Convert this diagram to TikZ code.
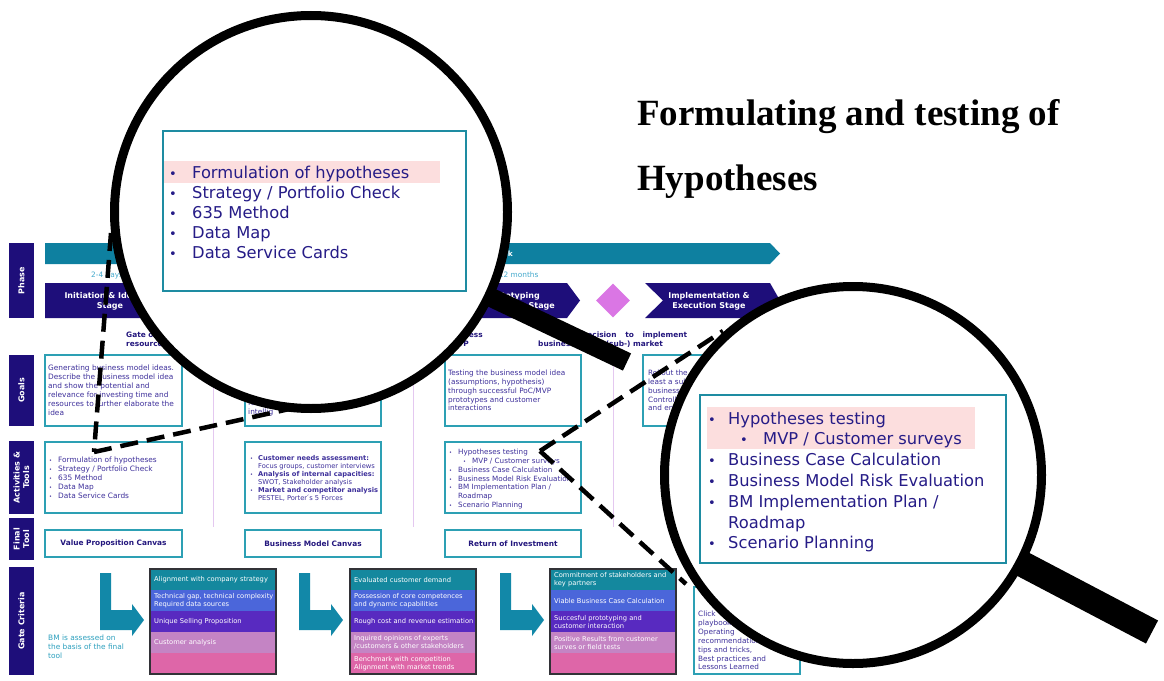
\documentclass[tikz,border=0pt]{standalone}
\usepackage{fontspec}
\setmainfont{Liberation Serif}
\newfontfamily\dv{DejaVu Sans}
\usetikzlibrary{shapes.geometric}
\newcommand\fsz[2]{\fontsize{#1}{#2}\selectfont}
\newcommand\sbul{\makebox[9pt][l]{{\fsz{5}{5}\textbullet}}}
\newcommand\nbul{\makebox[8pt][l]{{\fsz{5}{5}\textbullet}}}

\definecolor{navyc}{RGB}{30,14,122}
\definecolor{barc}{RGB}{14,128,160}
\definecolor{timec}{RGB}{70,170,205}
\definecolor{cellc}{RGB}{45,160,180}
\definecolor{bodyc}{RGB}{62,48,155}
\definecolor{gatec}{RGB}{35,22,125}
\definecolor{diac}{RGB}{218,118,228}
\definecolor{sepc}{RGB}{228,200,240}
\definecolor{arrowc}{RGB}{18,136,168}
\definecolor{notec}{RGB}{45,160,190}
\definecolor{bandA}{RGB}{20,136,158}
\definecolor{bandB}{RGB}{75,102,218}
\definecolor{bandC}{RGB}{88,42,192}
\definecolor{bandD}{RGB}{196,132,196}
\definecolor{bandE}{RGB}{222,102,168}
\definecolor{stackc}{RGB}{50,50,55}
\definecolor{lensboxc}{RGB}{30,140,162}
\definecolor{lenstc}{RGB}{38,28,135}
\definecolor{hlc}{RGB}{252,222,222}

\begin{document}
\begin{tikzpicture}[x=1pt,y=-1pt,
  lbl/.style={fill=navyc,text=white,font=\dv\bfseries\fsz{8}{9.5},align=center,rotate=90,inner sep=0},
  stg/.style={text=white,font=\dv\bfseries\fsz{8}{10},align=center,inner sep=0},
  timetxt/.style={text=timec,font=\dv\fsz{7.4}{9},inner sep=0},
  gatetxt/.style={text=gatec,font=\dv\bfseries\fsz{7.4}{9},inner sep=0},
  cell/.style={draw=cellc,line width=1.2pt,fill=white,inner sep=0,outer sep=0,anchor=north west},
  body/.style={text=bodyc,font=\dv\fsz{7.4}{9},align=left,inner sep=0,anchor=north west},
  tool/.style={cell,text=gatec,font=\dv\bfseries\fsz{7.4}{9},minimum width=137pt,minimum height=27pt},
  crit/.style={text=white,font=\dv\fsz{6.7}{8},align=left,inner sep=0,anchor=west},
  sepline/.style={draw=sepc,line width=0.8pt},
  larrow/.style={fill=arrowc},
  dashline/.style={draw=black,line width=4.5pt,dash pattern=on 18pt off 9pt},
  lens/.style={circle,draw=black,line width=9pt,fill=white,inner sep=0},
  lensbox/.style={draw=lensboxc,line width=2.5pt},
  lenstxt/.style={text=lenstc,font=\dv\fsz{16.3}{20},inner sep=0,anchor=base west},
  lensbul/.style={text=lenstc,font=\dv\fsz{13}{14},inner sep=0,anchor=base},
  title/.style={font=\bfseries\fsz{37}{44},inner sep=0,anchor=base west}
]
\useasboundingbox (0,0) rectangle (1164,680);
\fill[white] (0,0) rectangle (1164,680);

% ---------- row labels ----------
\node[lbl,minimum width=75pt,minimum height=25pt] (lbPhase) at (21.5,280.5) {Phase};
\node[lbl,minimum width=71pt,minimum height=25pt] (lbGoals) at (21.5,390.5) {Goals};
\node[lbl,minimum width=73pt,minimum height=25pt] (lbAct) at (21.5,477.5) {Activities \&\\Tools};
\node[lbl,minimum width=42pt,minimum height=25pt] (lbFinal) at (21.5,539) {Final\\Tool};
\node[lbl,minimum width=108pt,minimum height=25pt] (lbGate) at (21.5,621) {Gate Criteria};

% ---------- phase bar and stages ----------
\fill[barc] (45,243) -- (770,243) -- (780,253.5) -- (770,264) -- (45,264) -- cycle;
\node[text=white,font=\dv\bfseries\fsz{7.4}{9},inner sep=0,anchor=east] (barTxt) at (513,254) {k};
\node[timetxt,anchor=west] (tDays) at (91,275) {2-4 days};
\node[timetxt,anchor=west] (tMonths) at (496,275) {-12 months};

\fill[navyc] (45,283) -- (165,283) -- (178,300.5) -- (165,318) -- (45,318) -- cycle;
\node[stg] (sInit) at (110,301) {Initiation \& Ideation\\Stage};
\fill[navyc] (445,283) -- (567,283) -- (580,300.5) -- (567,318) -- (445,318) -- (458,300.5) -- cycle;
\node[stg,anchor=east] (sProtoA) at (540,296) {Prototyping};
\node[stg,anchor=east] (sProtoB) at (555,306) {Stage};
\node[diamond,fill=diac,minimum width=34pt,minimum height=34pt,inner sep=0] (decision) at (613,300.5) {};
\fill[navyc] (645,283) -- (770,283) -- (780,300.5) -- (770,318) -- (645,318) -- (663,300.5) -- cycle;
\node[stg] (sImpl) at (709,301) {Implementation \&\\Execution Stage};

% gate texts below the stages
\node[gatetxt,anchor=west] (gA1) at (126,335) {Gate of};
\node[gatetxt,anchor=west] (gA2) at (126,344) {resources};
\node[gatetxt,anchor=east] (gB1) at (483,335) {Business};
\node[gatetxt,anchor=east] (gB2) at (469,344) {MVP};
\node[gatetxt,anchor=west] (gC1) at (581,335) {\makebox[106pt][s]{Decision to implement}};
\node[gatetxt,anchor=west] (gC2) at (538,344) {business};
\node[gatetxt,anchor=east] (gC3) at (663,344) {in a (sub-) market};

% column separators
\draw[sepline] (213,345) -- (213,527);
\draw[sepline] (413,345) -- (413,527);
\draw[sepline] (613,345) -- (613,527);

% ---------- goals ----------
\node[cell,minimum width=137pt,minimum height=71pt] (g1) at (45,355) {};
\node[body] (g1t) at (48,365) {Generating business model ideas.\\Describe the business model idea\\and show the potential and\\relevance for investing time and\\resources to further elaborate the\\idea};
\node[cell,minimum width=136pt,minimum height=71pt] (g2) at (245,355) {};
\node[body] (g2t) at (248,400) {fun\\intellig};
\node[cell,minimum width=136pt,minimum height=71pt] (g3) at (445,355) {};
\node[body,font=\dv\fsz{7.3}{8.8}] (g3t) at (448,370) {Testing the business model idea\\(assumptions, hypothesis)\\through successful PoC/MVP\\prototypes and customer\\interactions};
\node[cell,minimum width=137pt,minimum height=71pt] (g4) at (643,355) {};
\node[body,font=\dv\fsz{7.3}{8.8}] (g4t) at (648,370) {Rollout the\\least a sub\\business\\Controlling\\and en};

% ---------- activities & tools ----------
\node[cell,minimum width=137pt,minimum height=71pt] (a1) at (45,442) {};
\node[body] (a1t) at (49,457) {\sbul Formulation of hypotheses\\\sbul Strategy / Portfolio Check\\\sbul 635 Method\\\sbul Data Map\\\sbul Data Service Cards};
\node[cell,minimum width=136pt,minimum height=71pt] (a2) at (245,442) {};
\node[body,font=\dv\fsz{6.7}{8}] (a2t) at (250,455) {\nbul\textbf{Customer needs assessment:}\\\hspace*{8pt}Focus groups, customer interviews\\\nbul\textbf{Analysis of internal capacities:}\\\hspace*{8pt}SWOT, Stakeholder analysis\\\nbul\textbf{Market and competitor analysis}\\\hspace*{8pt}PESTEL, Porter\'{}s 5 Forces};
\node[cell,minimum width=136pt,minimum height=71pt] (a3) at (445,442) {};
\node[body,font=\dv\fsz{7.2}{8.8}] (a3t) at (449,449) {\sbul Hypotheses testing\\\hspace*{14pt}\sbul MVP / Customer surveys\\\sbul Business Case Calculation\\\sbul Business Model Risk Evaluation\\\sbul BM Implementation Plan /\\\hspace*{9pt}Roadmap\\\sbul Scenario Planning};

% ---------- final tools ----------
\node[tool] (f1) at (45,530) {Value Proposition Canvas};
\node[tool,minimum width=136pt] (f2) at (245,530) {Business Model Canvas};
\node[tool,minimum width=136pt] (f3) at (445,530) {Return of Investment};

% ---------- gate criteria ----------
\foreach \x in {100,299,500}{
  \fill[larrow] (\x,573) -- (\x+11,573) -- (\x+11,610) -- (\x+32,610) -- (\x+32,604)
     -- (\x+44,620) -- (\x+32,636) -- (\x+32,630) -- (\x,630) -- cycle;
}
\node[body,text=notec] (note) at (48,635) {BM is assessed on\\the basis of the final\\tool};

% criteria stack 1
\fill[bandA] (150,569) rectangle (276,590);
\fill[bandB] (150,590) rectangle (276,611);
\fill[bandC] (150,611) rectangle (276,632);
\fill[bandD] (150,632) rectangle (276,653);
\fill[bandE] (150,653) rectangle (276,674);
\draw[stackc,line width=1.2pt] (150,569) rectangle (276,674);
\node[crit] (c1a) at (154,579.5) {Alignment with company strategy};
\node[crit] (c1b) at (154,600.5) {Technical gap, technical complexity\\Required data sources};
\node[crit] (c1c) at (154,621.5) {Unique Selling Proposition};
\node[crit] (c1d) at (154,642.5) {Customer analysis};

% criteria stack 2
\fill[bandA] (350,569) rectangle (476,590);
\fill[bandB] (350,590) rectangle (476,611);
\fill[bandC] (350,611) rectangle (476,632);
\fill[bandD] (350,632) rectangle (476,653);
\fill[bandE] (350,653) rectangle (476,674);
\draw[stackc,line width=1.2pt] (350,569) rectangle (476,674);
\node[crit] (c2a) at (354,579.5) {Evaluated customer demand};
\node[crit] (c2b) at (354,600.5) {Possession of core competences\\and dynamic capabilities};
\node[crit] (c2c) at (354,621.5) {Rough cost and revenue estimation};
\node[crit] (c2d) at (354,642.5) {Inquired opinions of experts\\/customers \& other stakeholders};
\node[crit] (c2e) at (354,663.5) {Benchmark with competition\\Alignment with market trends};

% criteria stack 3
\fill[bandA] (550,569) rectangle (676,590);
\fill[bandB] (550,590) rectangle (676,611);
\fill[bandC] (550,611) rectangle (676,632);
\fill[bandD] (550,632) rectangle (676,653);
\fill[bandE] (550,653) rectangle (676,674);
\draw[stackc,line width=1.2pt] (550,569) rectangle (676,674);
\node[crit] (c3a) at (554,579.5) {Commitment of stakeholders and\\key partners};
\node[crit] (c3b) at (554,600.5) {Viable Business Case Calculation};
\node[crit] (c3c) at (554,621.5) {Succesful prototyping and\\customer interaction};
\node[crit] (c3d) at (554,642.5) {Positive Results from customer\\surves or field tests};

% playbook box of the last stage
\node[cell,minimum width=106pt,minimum height=87pt] (pb) at (694,587) {};
\node[body,font=\dv\fsz{7.3}{8.85}] (pbt) at (698,611) {Click\\playbook\\Operating\\recommendations,\\tips and tricks,\\Best practices and\\Lessons Learned};

% ---------- magnifier projections ----------
\coordinate (lensLc) at (311,212);
\coordinate (lensRc) at (853,475);
\coordinate (pickL) at (94,452);
\coordinate (pickR) at (540,451);
\coordinate (edgeL1) at (111,233);
\coordinate (edgeL2) at (294,408);
\coordinate (edgeR1) at (723,331);
\coordinate (edgeR2) at (686,584);
\draw[dashline] (edgeL1) -- (pickL);
\draw[dashline] (pickL) -- (edgeL2);
\draw[dashline] (pickR) -- (edgeR1);
\draw[dashline] (pickR) -- (edgeR2);

% handles
\coordinate (hLend) at (627,362);
\coordinate (hRend) at (1152,632);
\draw[line width=19pt] (lensLc) -- (hLend);
\draw[line width=26pt] (lensRc) -- (hRend);

% lenses
\node[lens,minimum size=393pt] (lensL) at (lensLc) {};
\node[lens,minimum size=377pt] (lensR) at (lensRc) {};

% left lens content
\fill[hlc] (162,161) rectangle (440,183);
\draw[lensbox] (163,131) rectangle (466,291);
\node[lensbul] (lAb) at (173,178) {\textbullet};
\node[lenstxt] (lA) at (192,178) {Formulation of hypotheses};
\node[lensbul] (lBb) at (173,198) {\textbullet};
\node[lenstxt] (lB) at (192,198) {Strategy / Portfolio Check};
\node[lensbul] (lCb) at (173,218) {\textbullet};
\node[lenstxt] (lC) at (192,218) {635 Method};
\node[lensbul] (lDb) at (173,238) {\textbullet};
\node[lenstxt] (lD) at (192,238) {Data Map};
\node[lensbul] (lEb) at (173,258) {\textbullet};
\node[lenstxt] (lE) at (192,258) {Data Service Cards};

% right lens content
\fill[hlc] (707,407) rectangle (975,449);
\draw[lensbox] (700,395) rectangle (1006,563);
\node[lensbul] (rAb) at (712,424) {\textbullet};
\node[lenstxt] (rA) at (728,424) {Hypotheses testing};
\node[lensbul] (rBb) at (744,444) {\textbullet};
\node[lenstxt] (rB) at (763,444) {MVP / Customer surveys};
\node[lensbul] (rCb) at (712,465) {\textbullet};
\node[lenstxt] (rC) at (728,465) {Business Case Calculation};
\node[lensbul] (rDb) at (712,486) {\textbullet};
\node[lenstxt] (rD) at (728,486) {Business Model Risk Evaluation};
\node[lensbul] (rEb) at (712,507) {\textbullet};
\node[lenstxt] (rE) at (728,507) {BM Implementation Plan /};
\node[lenstxt] (rF) at (728,528) {Roadmap};
\node[lensbul] (rGb) at (712,548) {\textbullet};
\node[lenstxt] (rG) at (728,548) {Scenario Planning};

% ---------- title ----------
\node[title] (title1) at (637,125) {Formulating and testing of};
\node[title] (title2) at (637,190) {Hypotheses};
\end{tikzpicture}
\end{document}
